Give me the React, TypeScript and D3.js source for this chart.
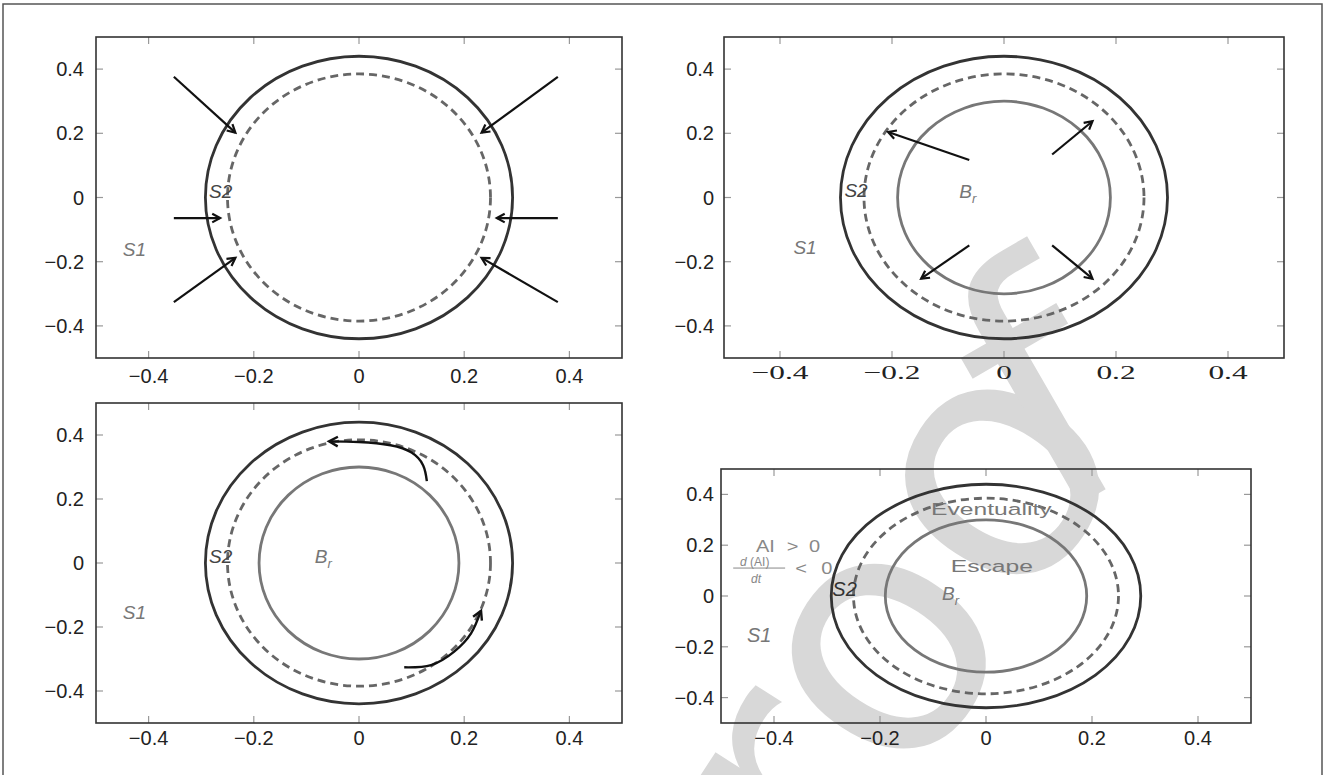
import React from "react";
import * as d3 from "d3";

// ---------- data ----------
const DOMAIN: [number, number] = [-0.5, 0.5];
const TICK_VALUES = [-0.4, -0.2, 0, 0.2, 0.4];
const TICK_LABELS = ["\u22120.4", "\u22120.2", "0", "0.2", "0.4"];

// level-set curves (x radius, y radius) in data units
const OUTER_RADII = [0.292, 0.44];
const DASHED_RADII = [0.25, 0.385];
const BR_RADII = [0.19, 0.3];

// arrows: [start, end]
const P1_ARROWS = [
  [[-0.352, 0.376], [-0.235, 0.202]],
  [[0.378, 0.376], [0.233, 0.202]],
  [[-0.352, -0.064], [-0.264, -0.064]],
  [[0.378, -0.064], [0.262, -0.064]],
  [[-0.352, -0.326], [-0.235, -0.188]],
  [[0.378, -0.326], [0.233, -0.188]],
];
const P2_ARROWS = [
  [[-0.062, 0.117], [-0.207, 0.204]],
  [[0.086, 0.134], [0.158, 0.2375]],
  [[-0.062, -0.149], [-0.148, -0.253]],
  [[0.086, -0.149], [0.158, -0.253]],
];
const P3_TOP_ARROW = [
  [0.129, 0.256],
  [0.122, 0.305],
  [0.1, 0.345],
  [0.06, 0.368],
  [0.0, 0.378],
  [-0.057, 0.38],
];
const P3_BOTTOM_ARROW = [
  [0.086, -0.326],
  [0.137, -0.319],
  [0.181, -0.277],
  [0.213, -0.22],
  [0.232, -0.149],
];

// panel frames [left, right, top, bottom]
const PANELS = [
  { id: 1, box: [96, 622, 37, 358], xSerif: false, xLabelOff: 25, yLabelGap: 12 },
  { id: 2, box: [724, 1284, 37, 358], xSerif: true, xLabelOff: 21, yLabelGap: 10 },
  { id: 3, box: [96, 622, 403, 723], xSerif: false, xLabelOff: 22, yLabelGap: 12 },
  { id: 4, box: [721, 1251, 469, 723], xSerif: false, xLabelOff: 22, yLabelGap: 7 },
];

const SANS = "'Liberation Sans', Arial, Helvetica, sans-serif";
const SERIF = "'Liberation Serif', 'DejaVu Serif', serif";

type Pt = number[];

function arrowHead(tip: [number, number], from: [number, number], len = 9, half = 0.5) {
  const a = Math.atan2(tip[1] - from[1], tip[0] - from[0]);
  const p1 = [tip[0] - len * Math.cos(a - half), tip[1] - len * Math.sin(a - half)];
  const p2 = [tip[0] - len * Math.cos(a + half), tip[1] - len * Math.sin(a + half)];
  return `M${p1[0]},${p1[1]}L${tip[0]},${tip[1]}L${p2[0]},${p2[1]}`;
}

function Panel({ cfg, children }: { cfg: any; children: (x: any, y: any) => React.ReactNode }) {
  const [l, r, t, b] = cfg.box;
  const x = d3.scaleLinear().domain(DOMAIN).range([l, r]);
  const y = d3.scaleLinear().domain(DOMAIN).range([b, t]);
  const tl = 7;
  return (
    <g>
      {TICK_VALUES.map((v, i) => (
        <g key={"t" + i} stroke="#999" strokeWidth={1.2}>
          <line x1={x(v)} x2={x(v)} y1={b} y2={b - tl} />
          <line x1={x(v)} x2={x(v)} y1={t} y2={t + tl} />
          <line x1={l} x2={l + tl} y1={y(v)} y2={y(v)} />
          <line x1={r} x2={r - tl} y1={y(v)} y2={y(v)} />
        </g>
      ))}
      <ellipse
        cx={x(0)}
        cy={y(0)}
        rx={x(OUTER_RADII[0]) - x(0)}
        ry={y(0) - y(OUTER_RADII[1])}
        fill="none"
        stroke="#333"
        strokeWidth={2.8}
      />
      <ellipse
        cx={x(0)}
        cy={y(0)}
        rx={x(DASHED_RADII[0]) - x(0)}
        ry={y(0) - y(DASHED_RADII[1])}
        fill="none"
        stroke="#666"
        strokeWidth={2.8}
        strokeDasharray="8,5"
      />
      {cfg.id !== 1 && (
        <ellipse
          cx={x(0)}
          cy={y(0)}
          rx={x(BR_RADII[0]) - x(0)}
          ry={y(0) - y(BR_RADII[1])}
          fill="none"
          stroke="#777"
          strokeWidth={2.8}
        />
      )}
      {children(x, y)}
      <rect x={l} y={t} width={r - l} height={b - t} fill="none" stroke="#333" strokeWidth={1.6} />
      {TICK_VALUES.map((v, i) => (
        <text
          key={"yl" + i}
          x={l - cfg.yLabelGap}
          y={y(v) + 7}
          textAnchor="end"
          fontFamily={SANS}
          fontSize={20}
          fill="#222"
        >
          {TICK_LABELS[i]}
        </text>
      ))}
      {TICK_VALUES.map((v, i) =>
        cfg.xSerif ? (
          <text
            key={"xl" + i}
            transform={`translate(${x(v)},${b + cfg.xLabelOff}) scale(1.65,1)`}
            textAnchor="middle"
            fontFamily={SERIF}
            fontSize={19}
            fill="#222"
          >
            {TICK_LABELS[i]}
          </text>
        ) : (
          <text
            key={"xl" + i}
            x={x(v)}
            y={b + cfg.xLabelOff}
            textAnchor="middle"
            fontFamily={SANS}
            fontSize={20}
            fill="#222"
          >
            {TICK_LABELS[i]}
          </text>
        )
      )}
    </g>
  );
}

function StraightArrows({ arrows, x, y }: { arrows: Pt[][]; x: any; y: any }) {
  return (
    <g stroke="#111" strokeWidth={2.2} fill="none">
      {arrows.map((a, i) => {
        const s: [number, number] = [x(a[0][0]), y(a[0][1])];
        const e: [number, number] = [x(a[1][0]), y(a[1][1])];
        return (
          <g key={i}>
            <line x1={s[0]} y1={s[1]} x2={e[0]} y2={e[1]} />
            <path d={arrowHead(e, s)} />
          </g>
        );
      })}
    </g>
  );
}

function CurvedArrow({ pts, x, y }: { pts: Pt[]; x: any; y: any }) {
  const line = d3
    .line<Pt>()
    .x((d) => x(d[0]))
    .y((d) => y(d[1]))
    .curve(d3.curveNatural);
  const n = pts.length;
  const e: [number, number] = [x(pts[n - 1][0]), y(pts[n - 1][1])];
  const p: [number, number] = [x(pts[n - 2][0]), y(pts[n - 2][1])];
  return (
    <g stroke="#111" strokeWidth={2.4} fill="none">
      <path d={line(pts) || ""} />
      <path d={arrowHead(e, p, 10)} />
    </g>
  );
}

function Label({ x, y, text, color = "#777", size = 19 }: any) {
  return (
    <text x={x} y={y} fontFamily={SANS} fontStyle="italic" fontSize={size} fill={color}>
      {text}
    </text>
  );
}

function BrLabel({ x, y }: any) {
  return (
    <text x={x} y={y} fontFamily={SANS} fontStyle="italic" fontSize={19} fill="#777">
      B
      <tspan fontSize={13} dy={5}>
        r
      </tspan>
    </text>
  );
}

function Stretched({ x, y, children, sx = 1.45, anchor = "start", size = 17, color = "#777" }: any) {
  return (
    <text
      transform={`translate(${x},${y}) scale(${sx},1)`}
      textAnchor={anchor}
      fontFamily={SANS}
      fontSize={size}
      fill={color}
    >
      {children}
    </text>
  );
}

export default function App() {
  return (
    <svg
      width={1325}
      height={775}
      style={{ position: "absolute", left: 0, top: 0, background: "#fff" }}
    >
      <rect x={0} y={0} width={1325} height={775} fill="#fff" />
      {/* proof watermark */}
      <g fontFamily="'DejaVu Sans', sans-serif" fontSize={340} fill="#d8d8d8">
        <text transform="translate(729.5,1072) rotate(-57)">Proo</text>
        <text transform="translate(1047,523) rotate(-30)">f</text>
      </g>
      <rect x={3} y={4} width={1319} height={820} fill="none" stroke="#555" strokeWidth={1.5} />

      <Panel cfg={PANELS[0]}>
        {(x, y) => (
          <g>
            <StraightArrows arrows={P1_ARROWS} x={x} y={y} />
            <Label x={x(-0.449)} y={y(-0.181)} text="S1" />
            <Label x={x(-0.285)} y={y(0)} text="S2" color="#444" />
          </g>
        )}
      </Panel>

      <Panel cfg={PANELS[1]}>
        {(x, y) => (
          <g>
            <StraightArrows arrows={P2_ARROWS} x={x} y={y} />
            <Label x={x(-0.376)} y={y(-0.175)} text="S1" />
            <Label x={x(-0.285)} y={y(0.003)} text="S2" color="#444" />
            <BrLabel x={x(-0.08)} y={y(0)} />
          </g>
        )}
      </Panel>

      <Panel cfg={PANELS[2]}>
        {(x, y) => (
          <g>
            <CurvedArrow pts={P3_TOP_ARROW} x={x} y={y} />
            <CurvedArrow pts={P3_BOTTOM_ARROW} x={x} y={y} />
            <Label x={x(-0.449)} y={y(-0.175)} text="S1" />
            <Label x={x(-0.285)} y={y(0)} text="S2" color="#444" />
            <BrLabel x={x(-0.084)} y={y(0)} />
          </g>
        )}
      </Panel>

      <Panel cfg={PANELS[3]}>
        {(x, y) => (
          <g>
            <Label x={x(-0.451)} y={y(-0.18)} text="S1" size={20} />
            <Label x={x(-0.29)} y={y(0)} text="S2" color="#333" size={20} />
            <BrLabel x={x(-0.083)} y={y(-0.016)} />
            <Stretched x={x(0.01)} y={y(0.318)} anchor="middle" color="#777">
              Eventuality
            </Stretched>
            <Stretched x={x(0.011)} y={y(0.094)} anchor="middle" color="#777">
              Escape
            </Stretched>
            <Stretched x={x(-0.434)} y={y(0.173)} size={16} sx={1.25} color="#888">
              AI
            </Stretched>
            <Stretched x={x(-0.376)} y={y(0.173)} size={16} sx={1.25} color="#888">
              {">"}
            </Stretched>
            <Stretched x={x(-0.334)} y={y(0.173)} size={16} sx={1.25} color="#888">
              0
            </Stretched>
            <text x={x(-0.464)} y={y(0.118)} fontFamily={SANS} fontSize={12} fill="#888">
              <tspan fontStyle="italic">d</tspan> (AI)
            </text>
            <line x1={x(-0.477)} x2={x(-0.379)} y1={y(0.11)} y2={y(0.11)} stroke="#888" strokeWidth={1} />
            <text
              x={x(-0.434)}
              y={y(0.053)}
              textAnchor="middle"
              fontFamily={SANS}
              fontStyle="italic"
              fontSize={12}
              fill="#888"
            >
              dt
            </text>
            <Stretched x={x(-0.36)} y={y(0.086)} size={16} sx={1.25} color="#888">
              {"<"}
            </Stretched>
            <Stretched x={x(-0.311)} y={y(0.086)} size={16} sx={1.25} color="#888">
              0
            </Stretched>
          </g>
        )}
      </Panel>
    </svg>
  );
}
